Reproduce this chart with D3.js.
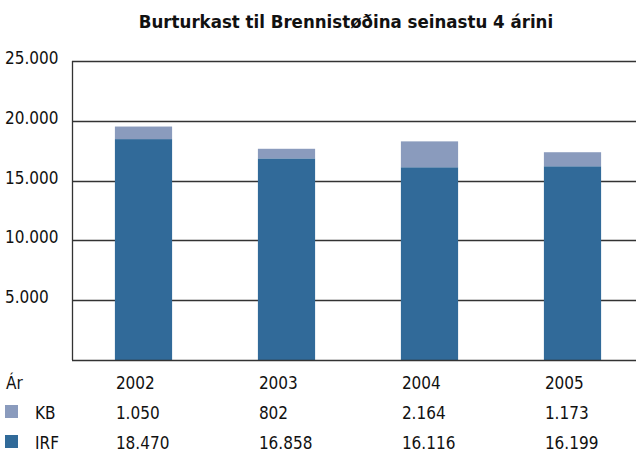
<!DOCTYPE html>
<html>
<head>
<meta charset="utf-8">
<script src="https://cdn.jsdelivr.net/npm/d3@7"></script>
<style>
  body { margin: 0; background: #fff; }
  text { font-family: "Liberation Sans Narrow", "DejaVu Sans Condensed", "Arial Narrow", sans-serif; fill: #111; }
</style>
</head>
<body>
<div id="graph"></div>
<script>
var years = ["2002", "2003", "2004", "2005"];
var irf = [18470, 16858, 16116, 16199];
var kb = [1050, 802, 2164, 1173];
var yTicks = [5000, 10000, 15000, 20000, 25000];
var seriesNames = ["KB", "IRF"];

var irf_color = "#316a99";
var kb_color = "#8a9bbd";

var width = 636, height = 455;
var plotLeft = 72, plotTop = 61, plotBottom = 360;

var svg = d3.select("#graph")
    .append("svg")
    .attr("width", width)
    .attr("height", height);

var fmt = function(v) { return d3.format(",")(v).replace(/,/g, "."); };

var x = d3.scaleBand()
    .domain(years)
    .range([plotLeft, plotLeft + 572])
    .paddingInner(0.6)
    .paddingOuter(0.3);

var y = d3.scaleLinear()
    .domain([0, 25000])
    .range([plotBottom, plotTop]);

// title
svg.append("text")
    .attr("x", 346)
    .attr("y", 28)
    .attr("text-anchor", "middle")
    .attr("font-size", 18.5)
    .attr("font-weight", "bold")
    .text("Burturkast til Brennistøðina seinastu 4 árini");

// gridlines
svg.selectAll(".grid")
    .data(yTicks)
    .enter()
    .append("line")
    .attr("class", "grid")
    .attr("x1", plotLeft)
    .attr("x2", width)
    .attr("y1", function(d) { return Math.round(y(d)) + 0.5; })
    .attr("y2", function(d) { return Math.round(y(d)) + 0.5; })
    .attr("stroke", "#333")
    .attr("stroke-width", 1.3);

// y labels, left aligned
svg.selectAll(".ylab")
    .data(yTicks)
    .enter()
    .append("text")
    .attr("class", "ylab")
    .attr("x", 5)
    .attr("y", function(d) { return y(d) + 3; })
    .attr("font-size", 17)
    .text(fmt);

// bars
var stacked = years.map(function(yr, i) { return {year: yr, irf: irf[i], kb: kb[i]}; });

svg.selectAll(".irf")
    .data(stacked)
    .enter()
    .append("rect")
    .attr("class", "irf")
    .attr("x", function(d) { return x(d.year); })
    .attr("width", x.bandwidth())
    .attr("y", function(d) { return y(d.irf); })
    .attr("height", function(d) { return y(0) - y(d.irf); })
    .attr("fill", irf_color);

svg.selectAll(".kb")
    .data(stacked)
    .enter()
    .append("rect")
    .attr("class", "kb")
    .attr("x", function(d) { return x(d.year); })
    .attr("width", x.bandwidth())
    .attr("y", function(d) { return y(d.irf + d.kb); })
    .attr("height", function(d) { return y(d.irf) - y(d.irf + d.kb); })
    .attr("fill", kb_color);

// axes lines
svg.append("line")
    .attr("x1", plotLeft + 0.5).attr("x2", plotLeft + 0.5)
    .attr("y1", plotTop).attr("y2", plotBottom)
    .attr("stroke", "#333").attr("stroke-width", 1.3);
svg.append("line")
    .attr("x1", plotLeft).attr("x2", width)
    .attr("y1", plotBottom + 0.5).attr("y2", plotBottom + 0.5)
    .attr("stroke", "#333").attr("stroke-width", 1.3);

// data table
var rowY = [389, 419, 449];

svg.append("text")
    .attr("x", 6).attr("y", rowY[0])
    .attr("font-size", 17)
    .text("Ár");

svg.selectAll(".yr")
    .data(years)
    .enter()
    .append("text")
    .attr("x", function(d) { return x(d) + 1; })
    .attr("y", rowY[0])
    .attr("font-size", 17)
    .text(function(d) { return d; });

var rows = [
  {name: seriesNames[0], color: kb_color, vals: kb},
  {name: seriesNames[1], color: irf_color, vals: irf}
];

rows.forEach(function(r, i) {
  var ty = rowY[i + 1];
  svg.append("rect")
      .attr("x", 5).attr("y", ty - 14)
      .attr("width", 13).attr("height", 13)
      .attr("fill", r.color);
  svg.append("text")
      .attr("x", 35).attr("y", ty)
      .attr("font-size", 17)
      .text(r.name);
  svg.selectAll(".v" + i)
      .data(r.vals)
      .enter()
      .append("text")
      .attr("x", function(d, j) { return x(years[j]) + 1; })
      .attr("y", ty)
      .attr("font-size", 17)
      .text(fmt);
});
</script>
</body>
</html>
